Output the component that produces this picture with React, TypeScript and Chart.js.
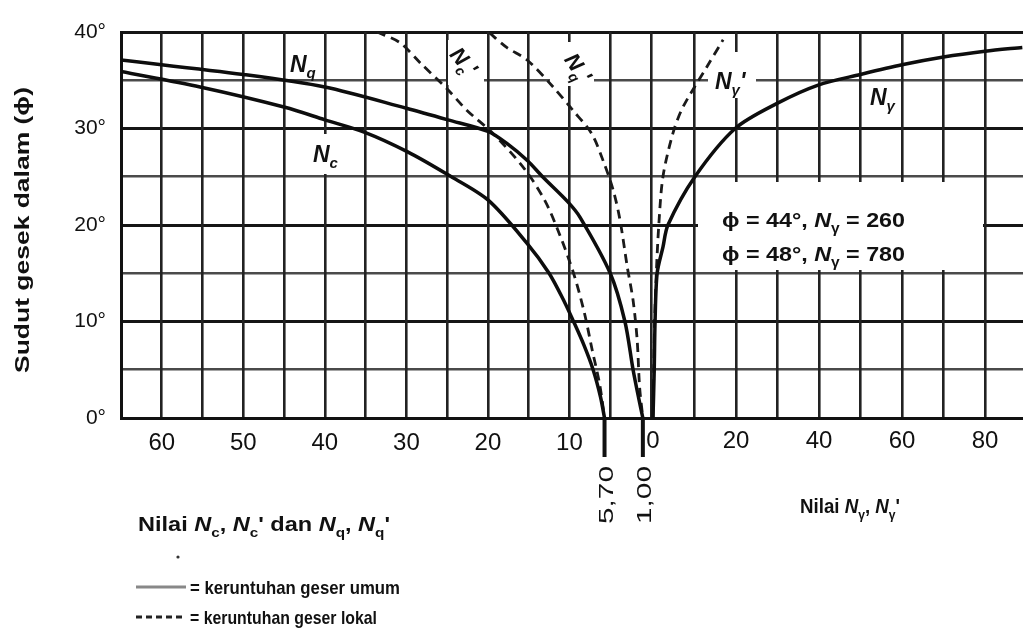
import React, { useEffect, useRef } from 'react';
import { Chart, registerables } from 'chart.js';

Chart.register(...registerables);

const FONT = "'Liberation Sans', Arial, sans-serif";

// Terzaghi factors: friction angle (deg) vs. factor value
// General shear (solid)
const ncPhi = [35.9, 34.3, 32.2, 30.9, 29.6, 27.6, 25.2, 22.6, 18.1, 15.0, 12.0, 10.0, 7.5, 5.0, 2.2, 0];
const ncVal = [65, 55.3, 44.9, 40.0, 35.1, 29.9, 24.9, 20.0, 15.2, 12.5, 10.6, 9.5, 8.2, 7.1, 6.2, 5.7];

const nqPhi = [37.1, 35.6, 34.3, 32.1, 30.9, 29.7, 28.4, 26.7, 25.0, 22.4, 20.8, 15.0, 10.0, 5.0, 2.0, 0];
const nqVal = [65, 50, 40, 30, 24.9, 20, 17.6, 15.2, 13.3, 10.2, 8.7, 5.0, 3.2, 2.2, 1.5, 1.0];

const ngPhi = [0, 5, 10, 15, 17.7, 20, 25, 30, 32.6, 34.5, 35.6, 36.6, 37.4, 38.0, 38.4];
const ngVal = [0, 0.3, 0.5, 1.0, 2.4, 3.6, 10.1, 19.8, 29.9, 39.8, 50, 60, 70, 80, 89];

// Local shear (dashed)
const ncLocPhi = [40.0, 38.9, 36.8, 34.1, 31.9, 29.5, 25.8, 22.5, 19.0, 15.0, 11.0, 7.0, 3.5, 0];
const ncLocVal = [33.6, 30.8, 28.3, 25.0, 22.6, 19.4, 15.5, 13.0, 11.2, 9.5, 8.2, 7.2, 6.3, 5.7];

const nqLocPhi = [39.9, 38.4, 37.1, 34.3, 31.9, 29.5, 26.5, 23.5, 20.5, 15.6, 12.2, 8.1, 3.2, 0];
const nqLocVal = [19.8, 17.7, 15.2, 12.0, 9.6, 7.3, 5.8, 4.6, 3.8, 2.9, 2.2, 1.7, 1.4, 1.0];

const ngLocPhi = [0, 5, 10, 15, 20, 25, 29.5, 32.2, 36.4, 39.2];
const ngLocVal = [0, 0.2, 0.4, 0.8, 1.4, 2.4, 4.8, 7.2, 13.0, 16.9];

// Axes / ticks
const yGridValues = [0, 5, 10, 15, 20, 25, 30, 35, 40];
const yTickLabels = [0, 10, 20, 30, 40];
const leftGridValues = [65, 60, 55, 50, 45, 40, 35, 30, 25, 20, 15, 10, 5, 0];
const leftTickLabels = [60, 50, 40, 30, 20, 10];
const rightGridValues = [0, 10, 20, 30, 40, 50, 60, 70, 80];
const rightTickLabels = [0, 20, 40, 60, 80];
const markerValues = [5.7, 1.0];
const markerLabels = ['5,70', '1,00'];

type Part = { t: string; k?: 'n' | 'i' | 's' };

function fontFor(k: string | undefined, size: number, bold: boolean, italicAll: boolean) {
  const w = bold ? 'bold ' : '';
  if (k === 's') return `${italicAll ? 'italic ' : ''}${w}${Math.round(size * 0.65)}px ${FONT}`;
  if (k === 'i' || italicAll) return `italic ${w}${size}px ${FONT}`;
  return `${w}${size}px ${FONT}`;
}

function drawRich(
  ctx: CanvasRenderingContext2D,
  parts: Part[],
  x: number,
  y: number,
  size: number,
  opts: { bold?: boolean; targetW?: number; align?: 'left' | 'center'; rotate?: number; italicAll?: boolean } = {}
) {
  const bold = opts.bold !== false;
  const italicAll = !!opts.italicAll;
  let w = 0;
  const widths: number[] = [];
  for (const p of parts) {
    ctx.font = fontFor(p.k, size, bold, italicAll);
    const m = ctx.measureText(p.t).width;
    widths.push(m);
    w += m;
  }
  const sx = opts.targetW ? opts.targetW / w : 1;
  ctx.save();
  ctx.translate(x, y);
  if (opts.rotate) ctx.rotate(opts.rotate);
  ctx.scale(sx, 1);
  ctx.fillStyle = '#111';
  ctx.textBaseline = 'alphabetic';
  ctx.textAlign = 'left';
  let cx = opts.align === 'center' ? -w / 2 : 0;
  parts.forEach((p, i) => {
    ctx.font = fontFor(p.k, size, bold, italicAll);
    const dy = p.k === 's' ? size * 0.28 : 0;
    ctx.fillText(p.t, cx, dy);
    cx += widths[i];
  });
  ctx.restore();
}

const pts = (xs: number[], ys: number[]) => xs.map((x, i) => ({ x, y: ys[i] }));

const annotationPlugin = {
  id: 'annotations',
  beforeDatasetsDraw(chart: any) {
    const ctx: CanvasRenderingContext2D = chart.ctx;
    ctx.save();
    ctx.fillStyle = '#fff';
    ctx.fillRect(698, 182, 285, 88);
    ctx.fillRect(448, 40, 36, 45);
    ctx.fillRect(550, 42, 44, 44);
    ctx.fillRect(708, 52, 48, 46);
    ctx.fillRect(312, 134, 36, 40);
    ctx.restore();
  },
  afterDraw(chart: any) {
    const ctx: CanvasRenderingContext2D = chart.ctx;
    const xL = chart.scales.xL;
    const xR = chart.scales.xR;
    const area = chart.chartArea;

    // right-hand (N gamma) tick labels
    ctx.save();
    ctx.font = `24px ${FONT}`;
    ctx.fillStyle = '#111';
    ctx.textAlign = 'center';
    ctx.textBaseline = 'top';
    rightTickLabels.forEach((v) => {
      ctx.fillText(String(v), xR.getPixelForValue(v), area.bottom + 11);
    });
    ctx.restore();

    // markers below axis for Nc = 5.70 and Nq = 1.00
    ctx.save();
    ctx.strokeStyle = '#111';
    ctx.lineWidth = 4;
    markerValues.forEach((v, i) => {
      const px = xL.getPixelForValue(v);
      ctx.beginPath();
      ctx.moveTo(px, area.bottom);
      ctx.lineTo(px, area.bottom + 39);
      ctx.stroke();
      drawRich(ctx, [{ t: markerLabels[i] }], px + 8, area.bottom + 77, 21, {
        bold: false,
        align: 'center',
        rotate: -Math.PI / 2,
        targetW: 58,
      });
    });
    ctx.restore();

    // y-axis title
    drawRich(ctx, [{ t: 'Sudut gesek dalam (ϕ)' }], 29, 230, 20, {
      align: 'center',
      rotate: -Math.PI / 2,
      targetW: 286,
    });

    // curve labels
    drawRich(ctx, [{ t: 'N', k: 'i' }, { t: 'q', k: 's' }], 290, 72, 23, { italicAll: true });
    drawRich(ctx, [{ t: 'N', k: 'i' }, { t: 'c', k: 's' }], 313, 162, 23, { italicAll: true });
    drawRich(ctx, [{ t: 'N', k: 'i' }, { t: 'c', k: 's' }, { t: "'" }], 458, 66, 22, {
      italicAll: true,
      align: 'center',
      rotate: (50 * Math.PI) / 180,
    });
    drawRich(ctx, [{ t: 'N', k: 'i' }, { t: 'q', k: 's' }, { t: "'" }], 572, 72, 22, {
      italicAll: true,
      align: 'center',
      rotate: (55 * Math.PI) / 180,
    });
    drawRich(ctx, [{ t: 'N', k: 'i' }, { t: 'γ', k: 's' }, { t: "'" }], 715, 89, 23, { italicAll: true });
    drawRich(ctx, [{ t: 'N', k: 'i' }, { t: 'γ', k: 's' }], 870, 105, 23, { italicAll: true });

    // phi notes
    drawRich(
      ctx,
      [{ t: 'ϕ = 44°, ' }, { t: 'N', k: 'i' }, { t: 'γ', k: 's' }, { t: ' = 260' }],
      722,
      227,
      21,
      { targetW: 183 }
    );
    drawRich(
      ctx,
      [{ t: 'ϕ = 48°, ' }, { t: 'N', k: 'i' }, { t: 'γ', k: 's' }, { t: ' = 780' }],
      722,
      261,
      21,
      { targetW: 183 }
    );

    // axis captions
    drawRich(
      ctx,
      [
        { t: 'Nilai ' },
        { t: 'N', k: 'i' },
        { t: 'c', k: 's' },
        { t: ', ' },
        { t: 'N', k: 'i' },
        { t: 'c', k: 's' },
        { t: "' dan " },
        { t: 'N', k: 'i' },
        { t: 'q', k: 's' },
        { t: ', ' },
        { t: 'N', k: 'i' },
        { t: 'q', k: 's' },
        { t: "'" },
      ],
      138,
      531,
      20,
      { targetW: 252 }
    );
    drawRich(
      ctx,
      [{ t: 'Nilai ' }, { t: 'N', k: 'i' }, { t: 'γ', k: 's' }, { t: ', ' }, { t: 'N', k: 'i' }, { t: 'γ', k: 's' }, { t: "'" }],
      800,
      513,
      20,
      { targetW: 100 }
    );

    // legend
    ctx.save();
    ctx.fillStyle = '#333';
    ctx.beginPath();
    ctx.arc(178, 557, 1.6, 0, Math.PI * 2);
    ctx.fill();
    ctx.lineWidth = 3;
    ctx.strokeStyle = '#888';
    ctx.beginPath();
    ctx.moveTo(136, 587);
    ctx.lineTo(186, 587);
    ctx.stroke();
    ctx.strokeStyle = '#222';
    ctx.setLineDash([6, 4]);
    ctx.beginPath();
    ctx.moveTo(136, 617);
    ctx.lineTo(186, 617);
    ctx.stroke();
    ctx.restore();
    drawRich(ctx, [{ t: '= keruntuhan geser umum' }], 190, 594, 19, { targetW: 210 });
    drawRich(ctx, [{ t: '= keruntuhan geser lokal' }], 190, 624, 19, { targetW: 187 });
  },
};

const solid = { borderColor: '#0d0d0d', borderWidth: 3.5, pointRadius: 0, showLine: true, tension: 0.3, fill: false };
const dashed = { borderColor: '#1a1a1a', borderWidth: 2.8, borderDash: [9, 6], pointRadius: 0, showLine: true, tension: 0.3, fill: false };

export default function App() {
  const ref = useRef<HTMLCanvasElement>(null);

  useEffect(() => {
    const canvas = ref.current;
    if (!canvas) return;
    const chart = new Chart(canvas, {
      type: 'scatter',
      data: {
        datasets: [
          { label: 'Nc', data: pts(ncVal, ncPhi), xAxisID: 'xL', yAxisID: 'y', ...solid },
          { label: 'Nq', data: pts(nqVal, nqPhi), xAxisID: 'xL', yAxisID: 'y', ...solid },
          { label: "Nc'", data: pts(ncLocVal, ncLocPhi), xAxisID: 'xL', yAxisID: 'y', ...dashed },
          { label: "Nq'", data: pts(nqLocVal, nqLocPhi), xAxisID: 'xL', yAxisID: 'y', ...dashed },
          { label: 'Nγ', data: pts(ngVal, ngPhi), xAxisID: 'xR', yAxisID: 'y', ...solid },
          { label: "Nγ'", data: pts(ngLocVal, ngLocPhi), xAxisID: 'xR', yAxisID: 'y', ...dashed },
        ] as any,
      },
      options: {
        responsive: false,
        devicePixelRatio: 1,
        animation: false,
        layout: { padding: { top: 32, right: 0, left: 0, bottom: 0 } },
        plugins: { legend: { display: false }, tooltip: { enabled: false } },
        scales: {
          y: {
            type: 'linear',
            position: 'left',
            min: 0,
            max: 40,
            afterFit: (s: any) => {
              s.width = 121;
            },
            afterBuildTicks: (s: any) => {
              s.ticks = yGridValues.map((v) => ({ value: v }));
            },
            ticks: {
              callback: (v: any) => (yTickLabels.includes(Number(v)) ? `${v}°` : ''),
              font: { family: FONT, size: 21 },
              color: '#111',
              padding: 15,
            },
            grid: {
              drawTicks: false,
              color: (c: any) => (c.tick && c.tick.value % 10 === 0 ? '#151515' : '#4a4a4a'),
              lineWidth: (c: any) => (c.tick && c.tick.value % 10 === 0 ? 3 : 2.6),
            },
            border: { display: true, color: '#111', width: 3 },
          },
          xL: {
            type: 'linear',
            axis: 'x',
            position: 'bottom',
            reverse: true,
            min: -45.62,
            max: 65,
            weight: 1,
            afterFit: (s: any) => {
              s.height = 219;
            },
            afterBuildTicks: (s: any) => {
              s.ticks = leftGridValues.map((v) => ({ value: v }));
            },
            ticks: {
              autoSkip: false,
              maxRotation: 0,
              callback: (v: any) => (leftTickLabels.includes(Number(v)) ? String(v) : ''),
              font: { family: FONT, size: 24 },
              color: '#111',
              padding: 11,
            },
            grid: { drawTicks: false, color: '#222', lineWidth: 2.6 },
            border: { display: true, color: '#111', width: 3 },
          },
          xR: {
            type: 'linear',
            axis: 'x',
            position: 'bottom',
            min: -128.19,
            max: 89.16,
            weight: 0,
            afterFit: (s: any) => {
              s.height = 0;
            },
            afterBuildTicks: (s: any) => {
              s.ticks = rightGridValues.map((v) => ({ value: v }));
            },
            ticks: { display: false },
            grid: {
              drawTicks: false,
              color: (c: any) => (c.tick && c.tick.value === 0 ? 'rgba(0,0,0,0)' : '#222'),
              lineWidth: 2.6,
            },
            border: { display: false },
          },
        },
      } as any,
      plugins: [annotationPlugin],
    });
    return () => chart.destroy();
  }, []);

  return (
    <div style={{ position: 'absolute', left: 0, top: 0, width: 1023, height: 637, background: '#fff' }}>
      <canvas ref={ref} width={1023} height={637} style={{ display: 'block', width: 1023, height: 637 }} />
    </div>
  );
}
